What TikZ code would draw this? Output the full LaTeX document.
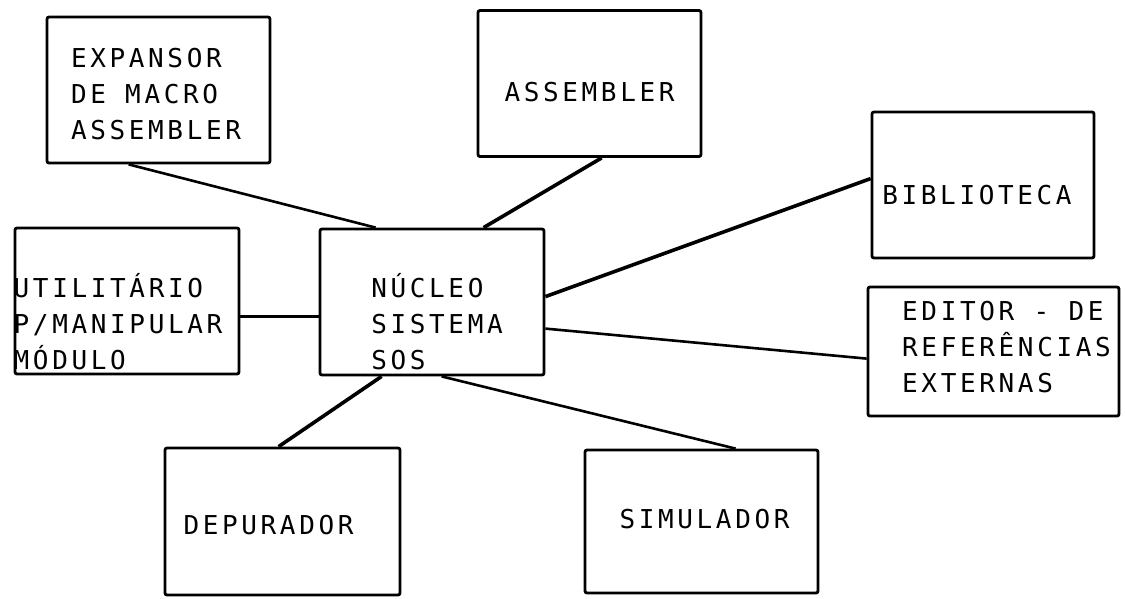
\documentclass[tikz,border=0pt]{standalone}
\usepackage{fontspec}
\newfontfamily\dotfont{DejaVu Sans Mono}[LetterSpace=14]
\begin{document}
\begin{tikzpicture}[
  x=1pt,y=-1pt,
  box/.style={rectangle,rounded corners=2pt,draw=black,line width=2.8pt,
    minimum width=223pt,minimum height=146pt,inner sep=0pt},
  txt/.style={align=left,inner sep=0pt,
    font=\dotfont\fontsize{26}{36}\selectfont},
  conn/.style={line width=2.6pt},
  tconn/.style={line width=3.6pt}]

\useasboundingbox[fill=white] (0,0) rectangle (1125,598);

% module boxes
\node[box,label={[txt,xshift=-2.5pt,yshift=-4pt]center:{EXPANSOR\\DE MACRO\\ASSEMBLER}}] (expansor) at (158.5,90) {};
\node[box,label={[txt,yshift=-8.5pt]center:ASSEMBLER}] (assembler) at (589.5,83.5) {};
\node[box,minimum width=222pt,label={[txt,xshift=-6pt,yshift=-10pt]center:BIBLIOTECA}] (biblioteca) at (983,185) {};
\node[box,minimum width=251pt,minimum height=129pt,
  label={[txt,xshift=13pt,yshift=4pt]center:{EDITOR - DE\\REFERÊNCIAS\\EXTERNAS}}] (editor) at (993.5,351.5) {};
\node[box,minimum width=224pt,label={[txt,xshift=-9pt,yshift=-21pt]center:{UTILITÁRIO\\P/MANIPULAR\\MÓDULO}}] (utilitario) at (127,301) {};
\node[box,minimum width=224pt,label={[txt,xshift=5pt,yshift=-20pt]center:{NÚCLEO\\SISTEMA\\SOS}}] (nucleo) at (432,302) {};
\node[box,minimum width=235pt,minimum height=147pt,label={[txt,xshift=-14pt,yshift=-4pt]center:DEPURADOR}] (depurador) at (282.5,521.5) {};
\node[box,minimum width=233pt,minimum height=143pt,label={[txt,xshift=3pt,yshift=2pt]center:SIMULADOR}] (simulador) at (701.5,521.5) {};

% links to the nucleus
\draw[conn] ([xshift=83pt]expansor.south west) -- ([xshift=57pt]nucleo.north west);
\draw[tconn] ([xshift=125pt]assembler.south west) -- ([xshift=165pt]nucleo.north west);
\draw[tconn] ([yshift=-69pt]nucleo.north east) -- ([yshift=-68pt]biblioteca.north west);
\draw[conn] ([yshift=-101pt]nucleo.north east) -- ([yshift=-73pt]editor.north west);
\draw[tconn] ([yshift=-89pt]nucleo.north west) -- ([yshift=-90pt]utilitario.north east);
\draw[tconn] ([xshift=63pt]nucleo.south west) -- ([xshift=115pt]depurador.north west);
\draw[conn] ([xshift=123pt]nucleo.south west) -- ([xshift=152pt]simulador.north west);
\end{tikzpicture}
\end{document}
